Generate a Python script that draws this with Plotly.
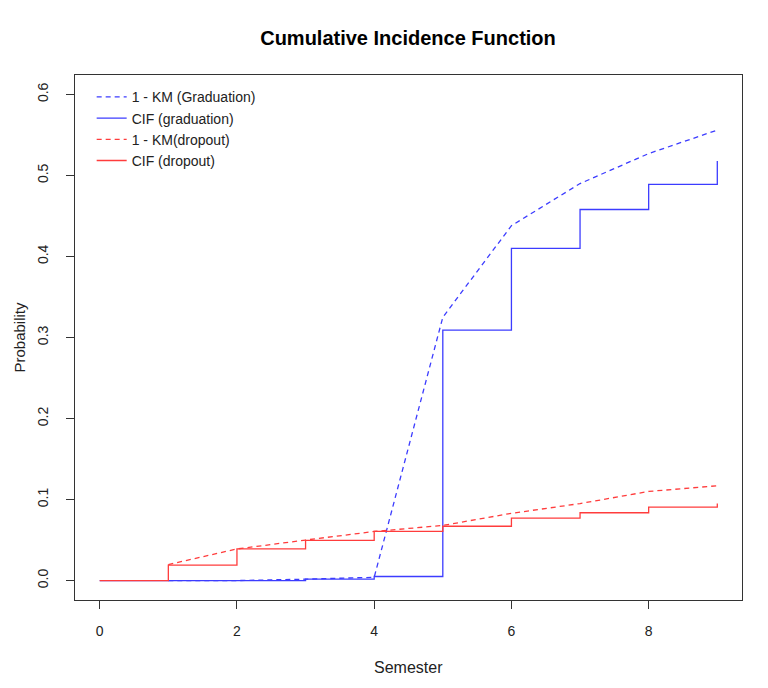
import plotly.graph_objects as go

# CIF step data (event times = semesters)
cif_time = [0, 1, 2, 3, 4, 5, 6, 7, 8, 9]
cif_grad = [0, 0, 0, 0.0017, 0.005, 0.309, 0.410, 0.458, 0.489, 0.518]
cif_drop = [0, 0.019, 0.039, 0.0495, 0.0606, 0.067, 0.077, 0.0837, 0.0907, 0.095]

# 1 - KM curves
km_time = [1, 2, 3, 4, 5, 6, 7, 8, 9]
km_grad = [0, 0, 0.0017, 0.004, 0.325, 0.438, 0.490, 0.527, 0.556]
km_drop = [0.0198, 0.039, 0.050, 0.0606, 0.068, 0.083, 0.095, 0.110, 0.117]

x_ticks = [0, 2, 4, 6, 8]
y_ticks = [0.0, 0.1, 0.2, 0.3, 0.4, 0.5, 0.6]

BLUE = "rgb(60,60,255)"
RED = "rgb(255,60,60)"
FONT = "Liberation Sans, Arial, sans-serif"

fig = go.Figure()
fig.add_trace(go.Scatter(x=km_time, y=km_grad, mode="lines", name="1 - KM (Graduation)",
                         line=dict(color=BLUE, width=1.3, dash="5px,4px")))
fig.add_trace(go.Scatter(x=cif_time, y=cif_grad, mode="lines", name="CIF (graduation)",
                         line=dict(color=BLUE, width=1.3, shape="hv")))
fig.add_trace(go.Scatter(x=km_time, y=km_drop, mode="lines", name="1 - KM(dropout)",
                         line=dict(color=RED, width=1.3, dash="5px,4px")))
fig.add_trace(go.Scatter(x=cif_time, y=cif_drop, mode="lines", name="CIF (dropout)",
                         line=dict(color=RED, width=1.3, shape="hv")))

fig.update_layout(
    width=768, height=688,
    margin=dict(l=67, r=34, t=67, b=96),
    paper_bgcolor="white", plot_bgcolor="white",
    font=dict(family=FONT, size=14, color="#222222"),
    title=dict(text="<b>Cumulative Incidence Function</b>", x=(408 - 8) / 768, xanchor="center",
               y=1 - 30 / 688, yanchor="middle", font=dict(size=20, color="black")),
    showlegend=True,
    legend=dict(x=0.025, y=0.988, xanchor="left", yanchor="top",
                bgcolor="rgba(0,0,0,0)", borderwidth=0,
                font=dict(size=14, color="#222222"), tracegroupgap=0),
    xaxis=dict(range=[-0.36, 9.36], tickvals=x_ticks, ticktext=[str(v) for v in x_ticks],
               showgrid=False, zeroline=False, showline=True, mirror=True,
               linecolor="#333333", linewidth=1, ticks="outside", ticklen=8,
               tickcolor="#333333", ticklabelstandoff=10),
    yaxis=dict(range=[-0.024, 0.624], tickvals=y_ticks, ticktext=[f"{v:.1f}" for v in y_ticks],
               showgrid=False, zeroline=False, showline=True, mirror=True,
               linecolor="#333333", linewidth=1, ticks="outside", ticklen=8,
               tickcolor="#333333", tickangle=-90, ticklabelstandoff=12),
    annotations=[
        dict(text="Semester", xref="paper", yref="paper", x=0.5, y=0, xanchor="center",
             yanchor="middle", yshift=-67, showarrow=False, font=dict(size=16)),
        dict(text="Probability", xref="paper", yref="paper", x=0, y=0.5, xanchor="center",
             yanchor="middle", xshift=-56, textangle=-90, showarrow=False, font=dict(size=15)),
    ],
)

fig.write_html("out.html")
